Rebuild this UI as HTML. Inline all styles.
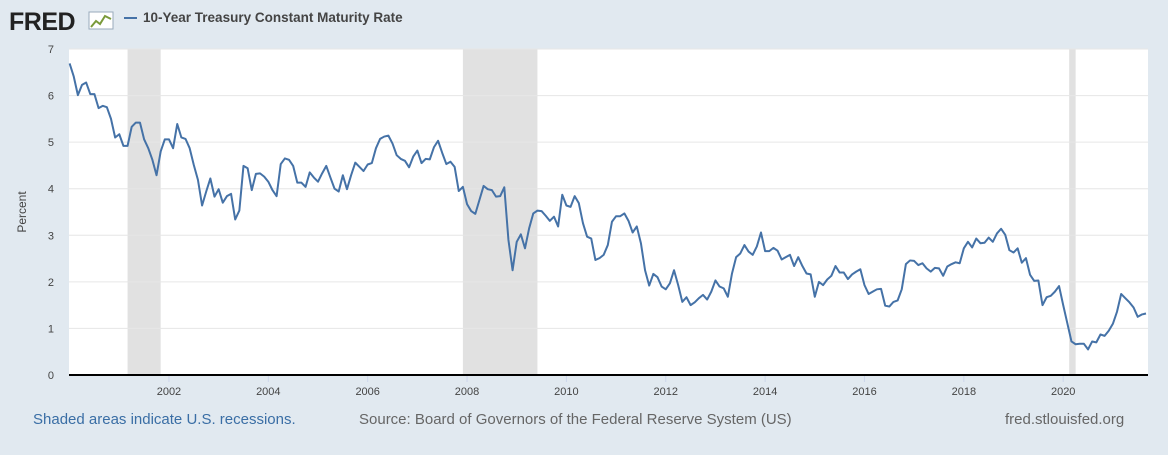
<!DOCTYPE html>
<html><head><meta charset="utf-8"><style>
body{margin:0;background:#e1e9f0;width:1168px;height:450px;overflow:hidden;font-family:"Liberation Sans",sans-serif}
</style></head><body>
<svg width="1168" height="450" viewBox="0 0 1168 450" xmlns="http://www.w3.org/2000/svg">
<g>
<text x="9" y="30" font-size="25" font-weight="bold" fill="#222" font-family="Liberation Sans, sans-serif" letter-spacing="-0.5">FRED</text>
<rect x="89" y="12" width="24" height="17" fill="#fff" stroke="#9ab" stroke-width="1"/>
<polyline points="91,27 96,21 100,24 105,16 111,19" fill="none" stroke="#7a9a3a" stroke-width="2"/>
</g>
<g>
<line x1="124" y1="18" x2="137" y2="18" stroke="#4572a7" stroke-width="2"/>
<text x="143" y="22" font-size="13.5" font-weight="bold" fill="#444">10-Year Treasury Constant Maturity Rate</text>
</g>
<rect x="69" y="49" width="1079" height="326" fill="#fff"/>
<g id="rec"></g><g id="grid"></g><g id="yt"></g><g id="xt"></g>
<line x1="69" y1="375" x2="1148" y2="375" stroke="#000" stroke-width="2"/>
<path id="ln" fill="none" stroke="#4572a7" stroke-width="2" stroke-linejoin="round"/>
<text transform="translate(26,212) rotate(-90)" text-anchor="middle" font-size="12" fill="#444">Percent</text>
<text x="33" y="424" font-size="15" fill="#3a6ea5">Shaded areas indicate U.S. recessions.</text>
<text x="359" y="424" font-size="15" fill="#666">Source: Board of Governors of the Federal Reserve System (US)</text>
<text x="1005" y="424" font-size="15" fill="#666">fred.stlouisfed.org</text>
</svg>
<script>
const values=[6.69,6.41,6.01,6.23,6.28,6.03,6.03,5.73,5.78,5.75,5.5,5.10,
5.17,4.92,4.92,5.33,5.42,5.42,5.06,4.87,4.62,4.29,4.80,5.06,
5.06,4.87,5.39,5.10,5.07,4.87,4.51,4.19,3.64,3.94,4.22,3.83,
3.99,3.70,3.84,3.89,3.34,3.53,4.49,4.44,3.97,4.32,4.33,4.26,
4.15,3.97,3.84,4.53,4.65,4.62,4.49,4.13,4.13,4.04,4.35,4.24,
4.15,4.33,4.49,4.24,4.0,3.94,4.29,3.99,4.29,4.56,4.47,4.38,
4.52,4.55,4.87,5.07,5.12,5.14,4.97,4.72,4.64,4.60,4.46,4.69,
4.82,4.55,4.64,4.63,4.89,5.03,4.77,4.53,4.58,4.47,3.95,4.04,
3.67,3.52,3.46,3.76,4.06,3.99,3.97,3.83,3.84,4.03,2.90,2.25,
2.86,3.02,2.72,3.15,3.47,3.53,3.52,3.42,3.31,3.40,3.19,3.87,
3.64,3.61,3.84,3.69,3.26,2.97,2.93,2.47,2.51,2.58,2.79,3.29,
3.41,3.41,3.47,3.31,3.06,3.19,2.83,2.25,1.92,2.17,2.10,1.90,
1.84,1.97,2.25,1.93,1.57,1.67,1.50,1.56,1.65,1.72,1.62,1.79,
2.03,1.90,1.86,1.68,2.18,2.53,2.61,2.79,2.65,2.58,2.76,3.06,
2.66,2.66,2.73,2.67,2.48,2.53,2.58,2.34,2.53,2.34,2.18,2.16,
1.68,2.00,1.93,2.05,2.13,2.34,2.20,2.20,2.06,2.16,2.22,2.27,
1.93,1.74,1.79,1.84,1.85,1.49,1.47,1.57,1.60,1.84,2.38,2.46,
2.45,2.36,2.40,2.29,2.22,2.30,2.29,2.13,2.33,2.38,2.42,2.40,
2.72,2.86,2.74,2.93,2.83,2.84,2.95,2.86,3.04,3.14,3.01,2.68,
2.63,2.72,2.41,2.51,2.15,2.02,2.03,1.50,1.67,1.70,1.79,1.91,
1.50,1.11,0.72,0.66,0.67,0.67,0.55,0.72,0.70,0.87,0.84,0.95,
1.10,1.36,1.74,1.65,1.56,1.45,1.25,1.30,1.32];
const yTicks=[0,1,2,3,4,5,6,7];
const xTickYears=[2002,2004,2006,2008,2010,2012,2014,2016,2018,2020];
const recessionStarts=[2001.167,2007.917,2020.12];
const recessionEnds=[2001.833,2009.417,2020.25];
const startYear=2000;
const NS='http://www.w3.org/2000/svg';
const x0=69.6,pxPerYear=49.68,yBase=375,pxPerUnit=46.57;
function xs(t){return x0+(t-startYear)*pxPerYear;}
function ys(v){return yBase-v*pxPerUnit;}
function mk(tag,attrs,parent){const e=document.createElementNS(NS,tag);for(const k in attrs)e.setAttribute(k,attrs[k]);document.getElementById(parent).appendChild(e);return e;}
recessionStarts.forEach((s,i)=>{
 const r=mk('rect',{x:xs(s),y:49,width:xs(recessionEnds[i])-xs(s),height:326,fill:'#e1e1e1'},'rec');
 
 
});
yTicks.forEach(v=>{
 if(v>0){const g=mk('line',{x1:69,x2:1148,y1:ys(v),y2:ys(v),stroke:'#e6e6e6','stroke-width':1},'grid');
 
 }
 const t=mk('text',{x:54,y:ys(v)+4,'text-anchor':'end','font-size':11,fill:'#444'},'yt');
 t.textContent=v;
 
 
});
xTickYears.forEach(yr=>{
 const l=mk('line',{x1:xs(yr),x2:xs(yr),y1:376,y2:382,stroke:'#ccd6eb','stroke-width':1},'xt');
 
 
 const t=mk('text',{x:xs(yr),y:395,'text-anchor':'middle','font-size':11,fill:'#444'},'xt');
 t.textContent=yr;
 
 
});
let d='';
values.forEach((v,i)=>{d+=(i?'L':'M')+xs(startYear+i/12).toFixed(2)+','+ys(v).toFixed(2);});
document.getElementById('ln').setAttribute('d',d);
</script>
</body></html>
